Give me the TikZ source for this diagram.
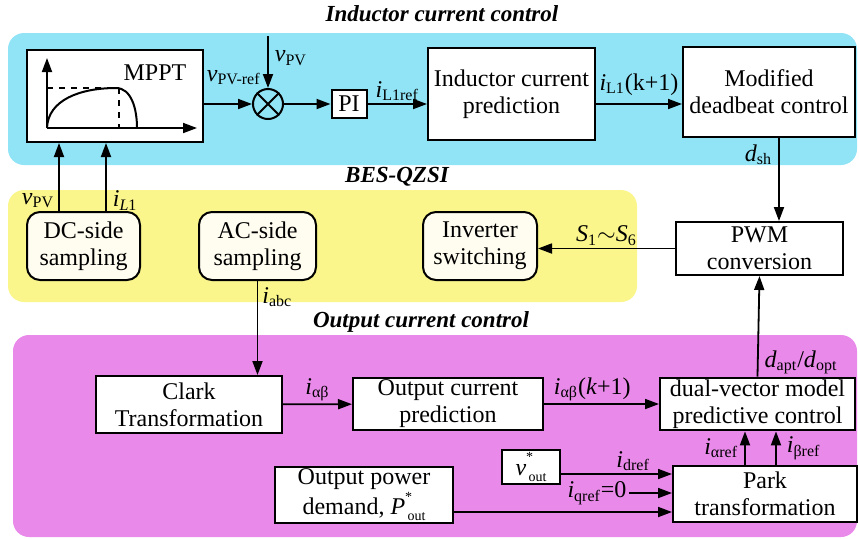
\documentclass[tikz,border=0pt]{standalone}
\usepackage{fontspec}
\setmainfont{Liberation Serif}
\usetikzlibrary{arrows.meta}
\usetikzlibrary{positioning}

\definecolor{skyarea}{RGB}{145,228,246}
\definecolor{sunarea}{RGB}{250,246,140}
\definecolor{pinkarea}{RGB}{233,137,233}
\definecolor{cream}{RGB}{255,253,240}

% italic variable with upright subscript
\newcommand{\vsub}[2]{\textit{#1}\textsubscript{#2}}
% starred reference value, star set high over the subscript
\newcommand{\vstar}[1]{\textit{#1}\rlap{\raisebox{1.25ex}{\scriptsize *}}\raisebox{-0.55ex}{\scriptsize\,out}}

\tikzset{
  block/.style={draw, line width=1pt, fill=white, align=center, inner sep=1pt},
  sampler/.style={block, fill=cream, rounded corners=6.5pt},
  sig/.style={-{Triangle[length=7pt,width=5pt]}, line width=0.9pt},
  lbl/.style={inner sep=1pt},
  heading/.style={font=\fontsize{11.5}{13}\selectfont\bfseries\itshape},
}

\begin{document}
\begin{tikzpicture}[x=0.5pt, y=-0.5pt, font=\fontsize{12}{13.5}\selectfont]
  \useasboundingbox (0,0) rectangle (859,538);

  % shaded areas
  \fill[skyarea, rounded corners=8pt] (8,33) rectangle (857,165);
  \fill[sunarea, rounded corners=8pt] (8,190) rectangle (637,302);
  \fill[pinkarea, rounded corners=8pt] (13,335) rectangle (857,537);

  \node[heading] (tind) at (442,14) {Inductor current control};
  \node[heading] (tbes) at (397,177) {BES-QZSI};
  \node[heading] (tout) at (421,322) {Output current control};

  % inductor current loop
  \node[block, minimum width=88pt, minimum height=46pt] (mppt) at (115,96) {};
  \node (mpptname) at (155,73) {MPPT};
  \draw[sig] (47,128) -- (47,58);
  \draw[sig] (47,128) -- (197,128);
  \draw[line width=1pt] (47,128) .. controls (48,100) and (80,88) .. (116,88)
        .. controls (131,88) and (137,108) .. (137,128);
  \draw[dashed, line width=0.9pt] (47,88) -- (116,88) (119,88) -- (119,128);

  \node[draw, circle, line width=1pt, minimum size=15pt, inner sep=0pt] (sum) at (268,104) {};
  \draw[line width=0.9pt] (sum.north west) -- (sum.south east)
                          (sum.north east) -- (sum.south west);
  \coordinate (vtop) at (268,36);
  \node[block, minimum width=17.5pt, minimum height=14pt] (pi) at (349,104) {PI};
  \node[block, minimum width=83.5pt, minimum height=46pt] (pred) at (511.5,94)
        {Inductor current\\prediction};
  \node[block, minimum width=86pt, minimum height=45pt] (mdb) at (769,92)
        {Modified\\deadbeat control};

  \draw[sig] (mppt.east |- sum) -- node[lbl, above=8pt, pos=0.62] {\vsub{v}{PV-ref}} (sum.west);
  \draw[sig] (vtop) -- node[lbl, right=2pt, pos=0.43] {\vsub{v}{PV}} (sum.north);
  \draw[sig] (sum) -- (pi);
  \draw[sig] (pi) -- node[lbl, above] {\vsub{i}{L1ref}} (pred.west |- pi);
  \draw[sig] (pred.east |- pi) -- node[lbl, above=3pt] {\vsub{i}{L1}(k+1)} (mdb.west |- pi);

  % BES-QZSI
  \node[sampler, minimum width=56.5pt, minimum height=34pt] (dc) at (83.5,246) {DC-side\\sampling};
  \node[sampler, minimum width=58.5pt, minimum height=34pt] (ac) at (257.5,246) {AC-side\\sampling};
  \node[sampler, minimum width=57pt, minimum height=34pt] (inv) at (480,246) {Inverter\\switching};
  \node[block, minimum width=83.5pt, minimum height=26.5pt] (pwm) at (759.5,248.5) {PWM\\conversion};

  \draw[sig] ([xshift=-12.25pt]dc.north) -- node[lbl, left=1pt, pos=0.15] {\vsub{v}{PV}}
        ([xshift=-12.25pt]dc.north |- mppt.south);
  \draw[sig] ([xshift=11.25pt]dc.north) -- node[lbl, right=2pt, pos=0.15] {\textit{i}\textsubscript{\textit{L}1}}
        ([xshift=11.25pt]dc.north |- mppt.south);
  \draw[sig] ([xshift=5pt]mdb.south) -- node[lbl, left=2pt, pos=0.2] {\vsub{d}{sh}}
        ([xshift=5pt]mdb.south |- pwm.north);
  \draw[sig] (pwm.west) -- node[lbl, above] {\vsub{S}{1}$\sim$\vsub{S}{6}} (pwm.west -| inv.east);

  % output current loop
  \node[block, minimum width=93pt, minimum height=28.5pt] (clark) at (189,404.5) {Clark\\Transformation};
  \node[block, minimum width=95pt, minimum height=26pt] (opred) at (448,404) {Output current\\prediction};
  \node[block, minimum width=97.5pt, minimum height=26pt] (dvm) at (757.5,404)
        {dual-vector model\\predictive control};
  \node[block, minimum width=92pt, minimum height=28pt] (park) at (765,494) {Park\\transformation};
  \node[block, minimum width=29pt, minimum height=16.5pt] (vout) at (531,467) {\vstar{v}};
  \node[lbl] (iq) at (597,493) {\vsub{i}{qref}=0};
  \node[block, minimum width=89pt, minimum height=28pt] (opd) at (364,495)
        {Output power\\demand, \vstar{P}};

  \draw[sig] (ac.south) -- node[lbl, right=1pt, pos=0.17] {\vsub{i}{abc}} (ac.south |- clark.north);
  \draw[sig] (clark) -- node[lbl, above] {\vsub{i}{αβ}} (opred);
  \draw[sig] (opred) -- node[lbl, above, pos=0.42] {\vsub{i}{αβ}(\textit{k}+1)} (dvm);
  \draw[sig] (dvm.north) -- node[lbl, right=2pt, pos=0.14] {\vsub{d}{apt}/\vsub{d}{opt}} (pwm.south);
  \draw[sig] ([xshift=-10pt]park.north) -- node[lbl, left=2pt] {\vsub{i}{αref}}
        ([xshift=-10pt]park.north |- dvm.south);
  \draw[sig] ([xshift=5.5pt]park.north) -- node[lbl, right=4pt] {\vsub{i}{βref}}
        ([xshift=5.5pt]park.north |- dvm.south);
  \draw[sig] (vout.east |- 0,474) -- node[lbl, above, pos=0.65] {\vsub{i}{dref}} (park.west |- 0,474);
  \draw[sig] (iq.east) -- (iq -| park.west);
  \draw[sig] ([yshift=-8.5pt]opd.east) -- ([yshift=-8.5pt]opd.east -| park.west);
\end{tikzpicture}
\end{document}
